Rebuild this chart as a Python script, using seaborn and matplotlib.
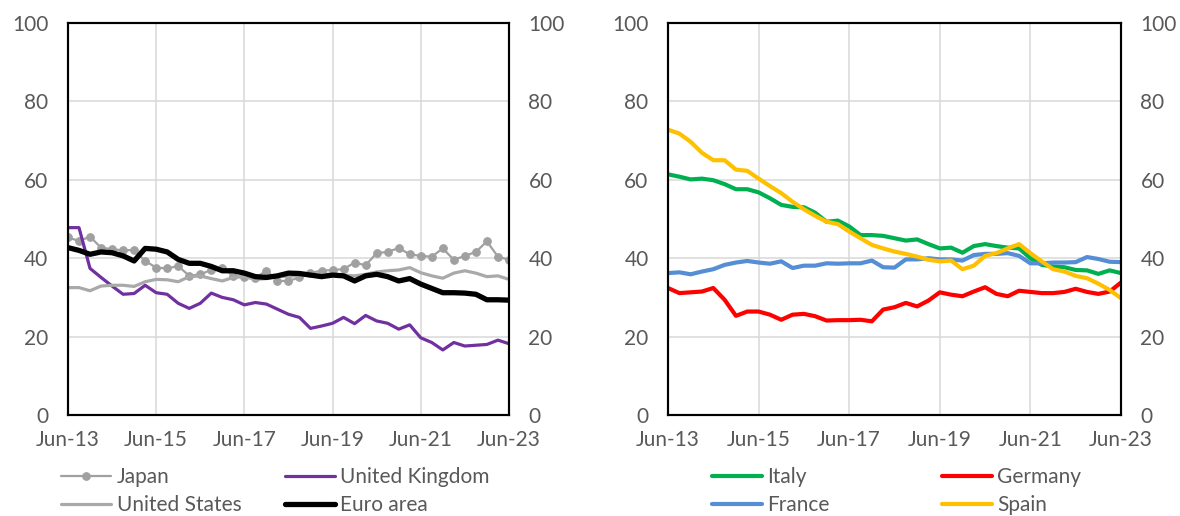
import numpy as np
import pandas as pd
import matplotlib
matplotlib.use("Agg")
import matplotlib.pyplot as plt
import seaborn as sb

#%% Daten (Quartale Jun-13 .. Jun-23)

quarters = np.arange(41)
tick_pos = [0, 8, 16, 24, 32, 40]
tick_labels = ['Jun-13', 'Jun-15', 'Jun-17', 'Jun-19', 'Jun-21', 'Jun-23']
y_ticks = [0, 20, 40, 60, 80, 100]

japan = [45.3, 44.4, 45.5, 42.7, 42.3, 42.0, 42.1, 39.3, 37.6, 37.4,
         38.0, 35.5, 35.9, 37.0, 37.6, 35.5, 35.2, 35.0, 36.8, 34.2,
         34.2, 35.1, 36.3, 36.8, 37.0, 37.2, 38.9, 38.2, 41.3, 41.6,
         42.6, 41.0, 40.6, 40.4, 42.5, 39.6, 40.6, 41.6, 44.3, 40.4, 39.6]
uk = [47.8, 47.8, 37.4, 35.1, 32.9, 30.8, 31.0, 33.1, 31.2, 30.8,
      28.5, 27.2, 28.5, 31.1, 30.0, 29.4, 28.1, 28.7, 28.3, 27.0,
      25.7, 24.9, 22.1, 22.7, 23.4, 24.9, 23.3, 25.4, 24.0, 23.4,
      21.9, 23.0, 19.7, 18.5, 16.6, 18.5, 17.6, 17.8, 18.0, 19.1, 18.2]
us = [32.5, 32.5, 31.7, 32.9, 33.1, 33.1, 32.8, 34.0, 34.6, 34.5,
      34.0, 35.3, 35.5, 34.8, 34.2, 35.1, 35.3, 34.6, 34.8, 35.5,
      35.3, 35.7, 35.9, 35.9, 35.9, 35.7, 35.5, 35.9, 36.5, 36.8,
      37.0, 37.6, 36.3, 35.5, 34.9, 36.2, 36.8, 36.2, 35.3, 35.5, 34.6]
euro = [42.7, 42.0, 41.0, 41.6, 41.4, 40.6, 39.3, 42.5, 42.3, 41.6,
        39.7, 38.7, 38.7, 37.9, 36.8, 36.8, 36.2, 35.3, 35.1, 35.5,
        36.2, 36.1, 35.7, 35.3, 35.7, 35.5, 34.2, 35.5, 35.9, 35.3,
        34.2, 34.8, 33.4, 32.3, 31.2, 31.2, 31.1, 30.8, 29.4, 29.4, 29.3]

italy = [61.4, 60.8, 60.1, 60.3, 59.9, 58.9, 57.6, 57.6, 56.8, 55.3,
         53.6, 53.1, 53.0, 51.6, 49.3, 49.6, 48.1, 45.9, 45.9, 45.7,
         45.1, 44.5, 44.8, 43.6, 42.5, 42.7, 41.4, 43.1, 43.6, 43.1,
         42.7, 42.5, 40.0, 38.3, 37.9, 37.7, 37.0, 36.9, 36.0, 36.9, 36.2]
germany = [32.4, 31.1, 31.3, 31.5, 32.4, 29.4, 25.3, 26.4, 26.4, 25.6,
           24.3, 25.6, 25.8, 25.2, 24.1, 24.2, 24.2, 24.3, 23.9, 26.9,
           27.5, 28.6, 27.7, 29.2, 31.3, 30.7, 30.3, 31.5, 32.6, 30.9,
           30.3, 31.7, 31.4, 31.1, 31.1, 31.4, 32.2, 31.4, 30.9, 31.5, 33.8]
france = [36.2, 36.4, 35.9, 36.6, 37.2, 38.3, 38.9, 39.3, 38.9, 38.6,
          39.2, 37.5, 38.1, 38.1, 38.7, 38.6, 38.7, 38.7, 39.4, 37.7,
          37.6, 39.7, 39.7, 40.0, 39.7, 39.7, 39.4, 40.8, 41.1, 41.1,
          41.3, 40.6, 38.7, 38.7, 38.9, 38.9, 39.0, 40.3, 39.8, 39.1, 39.0]
spain = [72.8, 71.8, 69.7, 66.9, 65.0, 65.0, 62.6, 62.3, 60.3, 58.4,
         56.6, 54.4, 52.5, 50.8, 49.3, 48.7, 46.8, 45.1, 43.4, 42.5,
         41.7, 41.1, 40.4, 39.6, 39.2, 39.4, 37.2, 38.1, 40.6, 41.3,
         42.5, 43.6, 41.3, 39.2, 37.2, 36.6, 35.5, 34.9, 33.5, 31.9, 29.8]

#%% Stil

sb.set_style('white')
plt.rcParams['font.family'] = ['Lato', 'DejaVu Sans']
txt_col = '#595959'
fs = 15

fig = plt.figure(figsize=(11.8, 5.16), dpi=100)
ax_l = fig.add_axes([0.0576, 0.1957, 0.3737, 0.7597])
ax_r = fig.add_axes([0.5661, 0.1957, 0.3839, 0.7597])

# (Name, Werte, Farbe, Linienbreite, Marker)
left_series = [('Japan', japan, '#A0A0A0', 1.6, 'o'),
               ('United Kingdom', uk, '#7030A0', 2.3, None),
               ('United States', us, '#A9A9A9', 2.3, None),
               ('Euro area', euro, 'black', 3.8, None)]
right_series = [('Italy', italy, '#00B050', 3.0, None),
                ('Germany', germany, '#FF0000', 3.0, None),
                ('France', france, '#558ED5', 3.0, None),
                ('Spain', spain, '#FFC000', 3.0, None)]


def draw_panel(ax, series, leg_x, leg_y, colspace):
    for name, vals, col, lw, mk in series:
        df = pd.DataFrame({'q': quarters, 'v': vals})
        if mk:
            sb.lineplot(data=df, x='q', y='v', ax=ax, color=col, linewidth=lw,
                        marker=mk, markersize=5.5, markeredgecolor=col, label=name)
        else:
            sb.lineplot(data=df, x='q', y='v', ax=ax, color=col, linewidth=lw,
                        label=name)
    if ax.get_legend():
        ax.get_legend().remove()

    ax.set_xlim(0, 40)
    ax.set_ylim(0, 100)
    ax.set_xticks(tick_pos)
    ax.set_xticklabels(tick_labels)
    ax.set_yticks(y_ticks)
    ax.set_xlabel('')
    ax.set_ylabel('')
    ax.grid(True, color='#D9D9D9', linewidth=1.1)
    ax.set_axisbelow(True)
    ax.tick_params(axis='x', length=0, pad=11, labelsize=fs, labelcolor=txt_col)
    ax.tick_params(axis='y', length=0, pad=14, labelsize=fs, labelcolor=txt_col)
    for s in ax.spines.values():
        s.set_color('black')
        s.set_linewidth(1.5)

    # rechte Achse
    ax2 = ax.twinx()
    ax2.set_ylim(0, 100)
    ax2.set_yticks(y_ticks)
    ax2.tick_params(axis='y', length=0, pad=14, labelsize=fs, labelcolor=txt_col)
    ax2.grid(False)
    for s in ax2.spines.values():
        s.set_color('black')
        s.set_linewidth(1.5)

    # Legende: 2 Spalten, Reihenfolge zeilenweise
    h, l = ax.get_legend_handles_labels()
    order = [0, 2, 1, 3]
    fig.legend([h[i] for i in order], [l[i] for i in order], ncol=2,
               loc='upper left', bbox_to_anchor=(leg_x, leg_y), frameon=False,
               fontsize=fs, labelcolor=txt_col, handlelength=2.4,
               handletextpad=0.25, columnspacing=colspace, labelspacing=0.38,
               borderpad=0, borderaxespad=0)


draw_panel(ax_l, left_series, 0.052, 0.094, 2.1)
draw_panel(ax_r, right_series, 0.603, 0.094, 5.4)

fig.savefig('out.png', dpi=100)
